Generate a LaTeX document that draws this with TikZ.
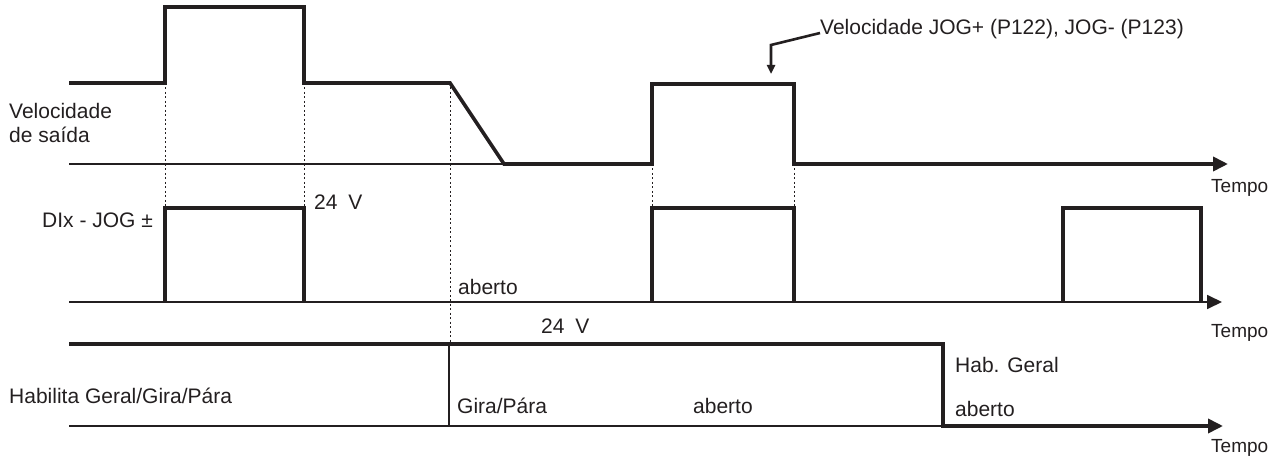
\documentclass[tikz,border=0pt]{standalone}
\usepackage{fontspec}
\setmainfont{Liberation Sans}
\usetikzlibrary{arrows.meta}
\definecolor{ink}{RGB}{35,31,32}
\begin{document}
\begin{tikzpicture}[x=1pt,y=-1pt,
  wave/.style={line width=3.6pt,draw=ink},
  axisline/.style={line width=1.8pt,draw=ink},
  guide/.style={line width=0.9pt,draw=ink,dash pattern=on 2pt off 2.5pt},
  lbl/.style={anchor=base west,inner sep=0pt,font=\fontsize{21}{25}\selectfont,text=ink},
  tlbl/.style={lbl,font=\fontsize{19}{23}\selectfont},
  bigtip/.style={-{Triangle[length=15pt,width=14pt]}},
  smalltip/.style={-{Triangle[length=9pt,width=8pt]}}
]
\useasboundingbox (0,0) rectangle (1274,457);

% ---------- top: output speed ----------
\draw[axisline,line width=2.4pt] (69,164) -- (504,164);
\draw[wave,bigtip] (69,83) -- (165,83) -- (165,7) -- (304,7) -- (304,83) -- (450,83)
  -- (504,164) -- (652,164) -- (652,84) -- (794,84) -- (794,164) -- (1228,164);

% ---------- middle: DIx - JOG ----------
\draw[axisline,bigtip] (69,302) -- (1222,302);
\draw[wave] (165,302) -- (165,208) -- (304,208) -- (304,302);
\draw[wave] (652,302) -- (652,208) -- (794,208) -- (794,302);
\draw[wave] (1063,302) -- (1063,208) -- (1201,208) -- (1201,302);

% ---------- bottom: Habilita Geral ----------
\draw[axisline] (69,426) -- (943,426);
\draw[axisline] (449,344) -- (449,426);
\draw[wave,bigtip] (69,344) -- (943,344) -- (943,426) -- (1223,426);

% ---------- dotted guides ----------
\draw[guide] (165,83) -- (165,208);
\draw[guide] (304,83) -- (304,208);
\draw[guide] (450,83) -- (450,344);
\draw[guide] (652,164) -- (652,208);
\draw[guide] (794,164) -- (794,208);

% ---------- labels ----------
\node[lbl] (vel1) at (9,119) {Velocidade};
\node[lbl] (vel2) at (9,143) {de saída};
\node[lbl] (jog) at (820,35) {Velocidade JOG+ (P122), JOG- (P123)};
\node[tlbl] (t1) at (1211,193) {Tempo};
\node[lbl] (dix) at (42,228) {DIx - JOG ±};
\node[lbl] (v24a) at (314,210) {24 \hspace{5pt}V};
\node[lbl] (ab1) at (458,294) {aberto};
\node[tlbl] (t2) at (1211,337) {Tempo};
\node[lbl] (v24b) at (541,333) {24 \hspace{5pt}V};
\node[lbl] (hab) at (9,403) {Habilita Geral/Gira/Pára};
\node[lbl] (gira) at (457,413) {Gira/Pára};
\node[lbl] (ab2) at (693,413) {aberto};
\node[lbl] (habg) at (955,372) {Hab. Geral};
\node[lbl] (ab3) at (955,416) {aberto};
\node[tlbl] (t3) at (1211,452) {Tempo};

% ---------- leader to JOG pulse ----------
\coordinate (lstart) at (820,33);
\coordinate (lcorner) at (771,45);
\coordinate (ltip) at (771,74);
\draw[line width=2.6pt,draw=ink,smalltip] (lstart) -- (lcorner) -- (ltip);
\end{tikzpicture}
\end{document}
